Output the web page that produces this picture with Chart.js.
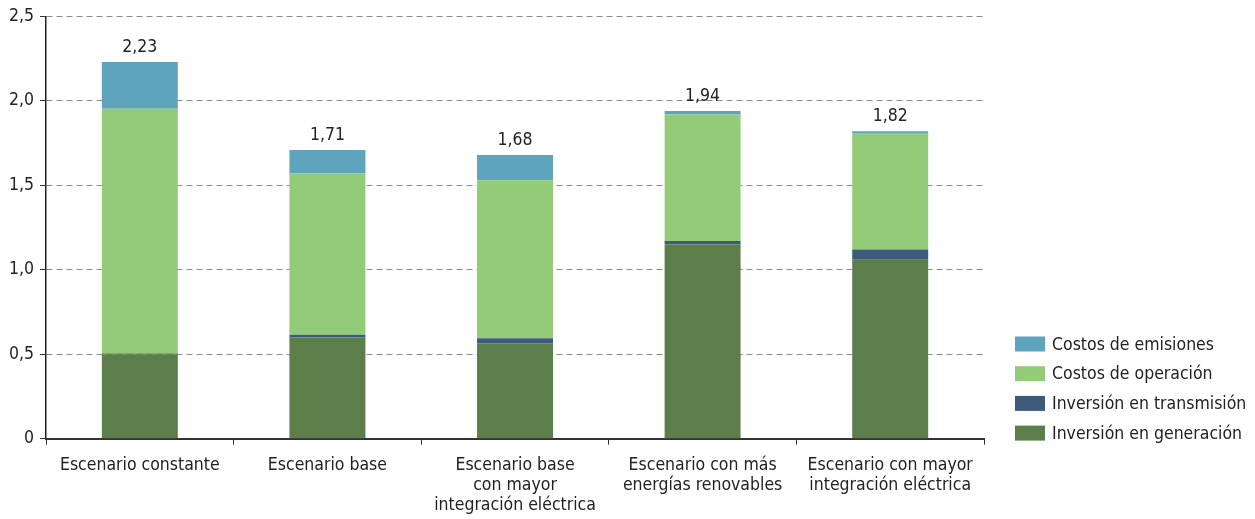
<!DOCTYPE html>
<html>
<head>
<meta charset="utf-8">
<script src="https://cdn.jsdelivr.net/npm/chart.js@4"></script>
<style>
  body { margin: 0; background: #fff; }
  #wrap { width: 1255px; height: 519px; }
</style>
</head>
<body>
<div id="wrap"><canvas id="costChart" width="1255" height="519"></canvas></div>
<script>
// Categories (x axis), multi-line labels as in the original
const categories = [
  'Escenario constante',
  'Escenario base',
  ['Escenario base', 'con mayor', 'integración eléctrica'],
  ['Escenario con más', 'energías renovables'],
  ['Escenario con mayor', 'integración eléctrica']
];

// Stacked series, bottom to top
const inversionGeneracion = [0.50, 0.60, 0.565, 1.15, 1.06];
const inversionTransmision = [0.004, 0.015, 0.03, 0.02, 0.06];
const costosOperacion = [1.45, 0.955, 0.935, 0.75, 0.69];
const costosEmisiones = [0.276, 0.14, 0.15, 0.02, 0.01];

// Totals printed above each bar
const totales = [2.23, 1.71, 1.68, 1.94, 1.82];

// Y axis ticks
const yTicks = [0, 0.5, 1.0, 1.5, 2.0, 2.5];

const FONT = "'Liberation Sans Narrow', 'DejaVu Sans Condensed', 'Roboto', sans-serif";
const TEXT = '#222222';

const fmt = (v, d) => v === 0 ? '0' : v.toFixed(d).replace('.', ',');

// Draws the total value above every stacked bar
const totalLabels = {
  id: 'totalLabels',
  afterDatasetsDraw(chart) {
    const { ctx } = chart;
    const meta = chart.getDatasetMeta(chart.data.datasets.length - 1);
    const yScale = chart.scales.y;
    ctx.save();
    ctx.font = `17.5px ${FONT}`;
    ctx.fillStyle = TEXT;
    ctx.textAlign = 'center';
    ctx.textBaseline = 'bottom';
    meta.data.forEach((bar, i) => {
      ctx.fillText(fmt(totales[i], 2), bar.x, yScale.getPixelForValue(totales[i]) - 6);
    });
    ctx.restore();
  }
};

// Legend on the right, lower half, top-most series first
const sideLegend = {
  id: 'sideLegend',
  afterDraw(chart) {
    const { ctx } = chart;
    const sets = chart.data.datasets.slice().reverse();
    ctx.save();
    ctx.font = `17.5px ${FONT}`;
    ctx.textAlign = 'left';
    ctx.textBaseline = 'middle';
    sets.forEach((ds, i) => {
      const cy = 344 + i * 29.7;
      ctx.fillStyle = ds.backgroundColor;
      ctx.fillRect(1015, cy - 7.5, 30, 15);
      ctx.fillStyle = TEXT;
      ctx.fillText(ds.label, 1052, cy + 1);
    });
    ctx.restore();
  }
};

new Chart(document.getElementById('costChart'), {
  type: 'bar',
  data: {
    labels: categories,
    datasets: [
      { label: 'Inversión en generación', data: inversionGeneracion, backgroundColor: '#5b7e4b' },
      { label: 'Inversión en transmisión', data: inversionTransmision, backgroundColor: '#3e5b7c' },
      { label: 'Costos de operación', data: costosOperacion, backgroundColor: '#93cb79' },
      { label: 'Costos de emisiones', data: costosEmisiones, backgroundColor: '#5ea4bd' }
    ]
  },
  options: {
    responsive: false,
    devicePixelRatio: 1,
    animation: false,
    layout: { padding: { left: 3, top: 4, right: 271, bottom: -8 } },
    datasets: {
      bar: { categoryPercentage: 1, barPercentage: 0.405, borderWidth: 0 }
    },
    plugins: {
      legend: { display: false },
      tooltip: { enabled: false }
    },
    scales: {
      x: {
        stacked: true,
        grid: {
          display: true,
          drawOnChartArea: false,
          drawTicks: true,
          tickLength: 6,
          color: '#333333',
          offset: true
        },
        border: { display: true, color: '#333333', width: 2 },
        ticks: {
          color: TEXT,
          padding: 11,
          maxRotation: 0,
          autoSkip: false,
          font: { family: FONT, size: 17.5, lineHeight: 1.15 }
        }
      },
      y: {
        stacked: true,
        min: 0,
        max: 2.5,
        afterBuildTicks(axis) {
          axis.ticks = yTicks.map(v => ({ value: v }));
        },
        grid: {
          color: (c) => c.tick && c.tick.value === 0 ? 'rgba(0,0,0,0)' : '#8c8c8c',
          lineWidth: 1,
          drawTicks: true,
          tickLength: 6,
          tickColor: '#333333',
          tickBorderDash: []
        },
        border: { display: true, color: '#222222', width: 1.5, dash: [6, 4] },
        ticks: {
          color: TEXT,
          padding: 6,
          font: { family: FONT, size: 17.5 },
          callback: (v) => fmt(v, 1)
        }
      }
    }
  },
  plugins: [totalLabels, sideLegend]
});
</script>
</body>
</html>
